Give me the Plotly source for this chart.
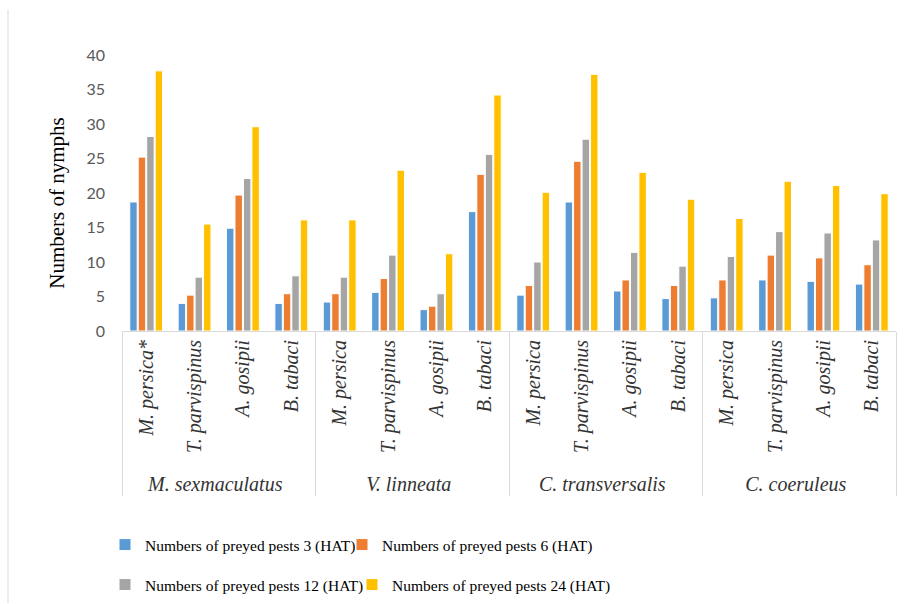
import plotly.graph_objects as go

# Predators (outer categories) and prey species (inner categories)
predators = ["M. sexmaculatus", "V. linneata", "C. transversalis", "C. coeruleus"]
prey_by_predator = [
    ["M. persica*", "T. parvispinus", "A. gosipii", "B. tabaci"],
    ["M. persica", "T. parvispinus", "A. gosipii", "B. tabaci"],
    ["M. persica", "T. parvispinus", "A. gosipii", "B. tabaci"],
    ["M. persica", "T. parvispinus", "A. gosipii", "B. tabaci"],
]

# Mean numbers of nymphs preyed at each time point (hours after treatment)
hat_3 = [18.7, 4.0, 14.9, 4.0, 4.2, 5.6, 3.1, 17.3, 5.2, 18.7, 5.8, 4.7, 4.8, 7.4, 7.2, 6.8]
hat_6 = [25.2, 5.2, 19.7, 5.4, 5.4, 7.6, 3.6, 22.7, 6.6, 24.6, 7.4, 6.6, 7.4, 11.0, 10.6, 9.6]
hat_12 = [28.2, 7.8, 22.1, 8.0, 7.8, 11.0, 5.4, 25.6, 10.0, 27.8, 11.4, 9.4, 10.8, 14.4, 14.2, 13.2]
hat_24 = [37.7, 15.5, 29.6, 16.1, 16.1, 23.3, 11.2, 34.2, 20.1, 37.2, 23.0, 19.1, 16.3, 21.7, 21.1, 19.9]

series_names = [
    "Numbers of preyed pests 3 (HAT)",
    "Numbers of preyed pests 6 (HAT)",
    "Numbers of preyed pests 12 (HAT)",
    "Numbers of preyed pests 24 (HAT)",
]
series_values = [hat_3, hat_6, hat_12, hat_24]
series_colors = ["#5B9BD5", "#ED7D31", "#A5A5A5", "#FFC000"]
legend_ids = ["legend", "legend2", "legend3", "legend4"]

outer = [p for p, prey in zip(predators, prey_by_predator) for _ in prey]
inner = [s for prey in prey_by_predator for s in prey]

# Plotly orders each multicategory level by first appearance, so feed the
# points prey-first (all "M. persica" entries before "T. parvispinus", ...)
n_prey = len(prey_by_predator[0])
feed_order = [g * n_prey + j for j in range(n_prey) for g in range(len(predators))]

W, H = 910, 604
plot_left, plot_right = 122, 896
plot_top, plot_bottom = 55, 331.5
plot_w = plot_right - plot_left
plot_h = plot_bottom - plot_top

fig = go.Figure()
for name, vals, color, lg in zip(series_names, series_values, series_colors, legend_ids):
    fig.add_trace(go.Bar(
        x=[[outer[k] for k in feed_order], [inner[k] for k in feed_order]],
        y=[vals[k] for k in feed_order],
        name=name,
        marker=dict(color=color, line=dict(color="white", width=1)),
        legend=lg,
    ))

serif = "Liberation Serif, Times New Roman, serif"
legend_font = dict(family=serif, size=15.5, color="#000000")

# Two-by-two legend layout, one legend box per series
legend_pos = {
    "legend": (105, 545),
    "legend2": (342, 545),
    "legend3": (105, 585),
    "legend4": (352, 585),
}
legend_layouts = {}
for lg, (px, py) in legend_pos.items():
    legend_layouts[lg] = dict(
        xref="container", yref="container",
        x=px / W, y=(H - py) / H,
        xanchor="left", yanchor="middle",
        orientation="h",
        font=legend_font,
        bgcolor="rgba(0,0,0,0)",
        borderwidth=0,
    )

fig.update_layout(
    width=W, height=H,
    margin=dict(l=plot_left, r=W - plot_right, t=plot_top, b=H - plot_bottom, autoexpand=False),
    paper_bgcolor="white",
    plot_bgcolor="white",
    barmode="group",
    bargap=0.3,
    bargroupgap=0.12,
    showlegend=True,
    **legend_layouts,
)

fig.update_xaxes(
    type="multicategory",
    showline=True, linecolor="#D9D9D9", linewidth=1,
    showgrid=False, ticks="",
    tickangle=-90,
    tickfont=dict(family=serif, size=20, color="#333333", style="italic"),
    showdividers=True, dividercolor="#D9D9D9", dividerwidth=1,
    automargin=False,
)

fig.update_yaxes(
    range=[0, 40], dtick=5,
    showline=False, showgrid=False, zeroline=False,
    ticks="",
    ticklabelstandoff=16,
    tickfont=dict(family="Lato, Calibri, sans-serif", size=16, color="#595959"),
    automargin=False,
)

# Y-axis title
fig.add_annotation(
    text="Numbers of nymphs",
    xref="paper", yref="paper",
    x=(57 - plot_left) / plot_w, y=(plot_bottom - 203) / plot_h,
    xanchor="center", yanchor="middle",
    textangle=-90, showarrow=False,
    font=dict(family=serif, size=21, color="#000000"),
)

# Chart frame edge on the left side
fig.add_shape(
    type="line", xref="paper", yref="paper",
    x0=(8 - plot_left) / plot_w, x1=(8 - plot_left) / plot_w,
    y0=(plot_bottom - 10) / plot_h, y1=(plot_bottom - H) / plot_h,
    line=dict(color="#D9D9D9", width=1),
)

fig.write_html("out.html")
